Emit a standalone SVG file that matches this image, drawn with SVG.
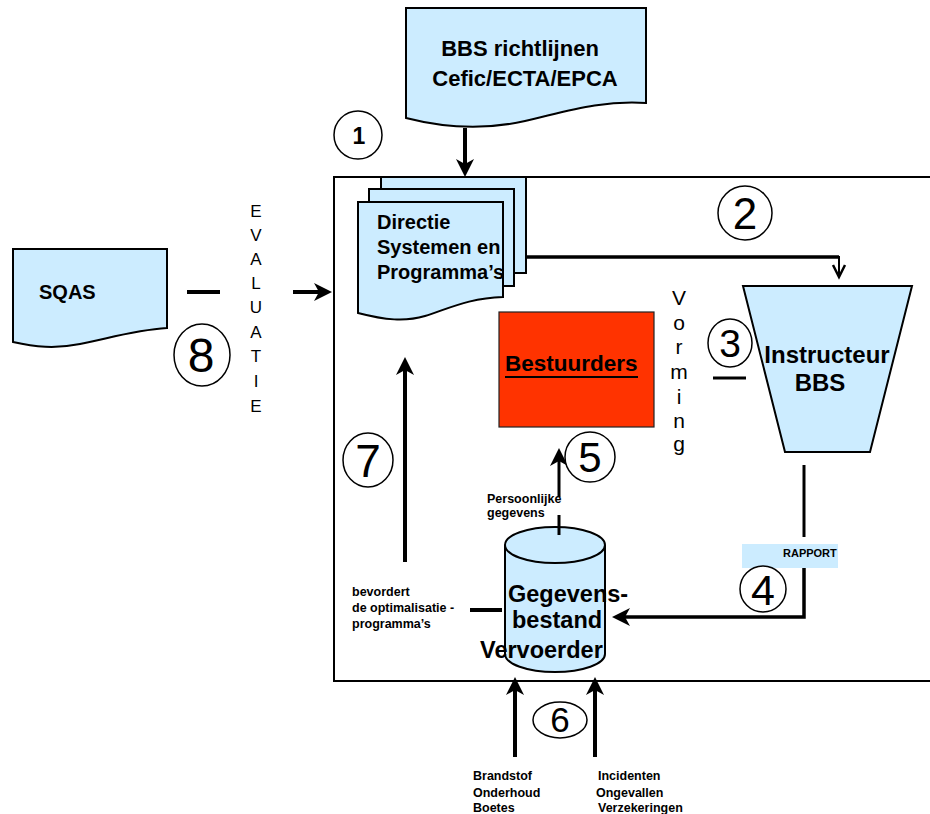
<svg xmlns="http://www.w3.org/2000/svg" width="930" height="814" viewBox="0 0 930 814">
<defs>
<style>
.doc{fill:#CCECFF;stroke:#000;stroke-width:2}
.b{font-family:"Liberation Sans",Arial,sans-serif;font-weight:bold;fill:#000}
.r{font-family:"Liberation Sans",Arial,sans-serif;fill:#000}
.num{font-family:"Liberation Sans",Arial,sans-serif;fill:#000;text-anchor:middle}
.circ{fill:#fff;stroke:#000;stroke-width:1.5}
.ln{fill:none;stroke:#000}
</style>
<marker id="ah" viewBox="0 0 18 18" markerWidth="18" markerHeight="18" markerUnits="userSpaceOnUse" refX="5" refY="9" orient="auto">
<path d="M0,0 L18,9 L0,18 L5,9 Z" fill="#000"/>
</marker>
</defs>
<rect width="930" height="814" fill="#fff"/>

<g id="frame">
<path class="ln" stroke-width="2" d="M930,177 H334 V681 H930"/>
</g>

<g id="bbs-richtlijnen">
<path class="doc" d="M406,8 H646 V103 C600,100 565,112 525,121 C485,130 445,128 406,118 Z"/>
<text class="b" font-size="22" x="520" y="56" text-anchor="middle">BBS richtlijnen</text>
<text class="b" font-size="22" x="525" y="86" text-anchor="middle">Cefic/ECTA/EPCA</text>
</g>

<g id="sqas">
<path class="doc" d="M13,249 H167 V328 C135,330 110,338 80,344 C55,349 35,347 13,342 Z"/>
<text class="b" font-size="20" x="39" y="299">SQAS</text>
</g>

<g id="directie">
<rect class="doc" x="381" y="177" width="145" height="96"/>
<rect class="doc" x="369" y="189" width="145" height="97"/>
<path class="doc" d="M358,202 H503 V297 C470,298 450,308 425,316 C405,322 385,320 358,313 Z"/>
<text class="b" font-size="20" x="377" y="229">Directie</text>
<text class="b" font-size="20" x="377" y="254">Systemen en</text>
<text class="b" font-size="20" x="377" y="279">Programma’s</text>
</g>

<g id="bestuurders">
<rect x="499" y="312" width="155" height="115" fill="#FF3300" stroke="#222" stroke-width="1.2"/>
<text class="b" font-size="22.5" x="505" y="371">Bestuurders</text>
<line x1="505" y1="377" x2="638" y2="377" stroke="#000" stroke-width="2"/>
</g>

<g id="instructeur">
<path class="doc" d="M743,286 H912 L870,452 H785 Z"/>
<text class="b" font-size="24" x="827" y="363" text-anchor="middle">Instructeur</text>
<text class="b" font-size="24" x="820" y="391" text-anchor="middle">BBS</text>
</g>

<g id="gegevensbestand">
<path class="doc" d="M505,545 V654 A50,18 0 0 0 605,654 V545"/>
<ellipse class="doc" cx="555" cy="545" rx="50" ry="18"/>
<text class="b" font-size="23.5" x="508" y="602">Gegevens-</text>
<text class="b" font-size="23.5" x="512" y="628">bestand</text>
<text class="b" font-size="23.5" x="480" y="658">Vervoerder</text>
</g>

<g id="rapport">
<rect x="742" y="544" width="96" height="24" fill="#CCECFF"/>
<text class="b" font-size="11" x="783" y="557">RAPPORT</text>
</g>

<g id="connectors">
<line class="ln" stroke-width="4" x1="465" y1="128" x2="465" y2="164" marker-end="url(#ah)"/>
<path class="ln" stroke-width="3.5" d="M526,257 H839"/>
<path class="ln" stroke-width="2" d="M839,256 V277"/>
<polyline class="ln" stroke-width="2.5" points="833,265 839,277 845,265"/>
<line class="ln" stroke-width="4" x1="187" y1="292" x2="220" y2="292"/>
<line class="ln" stroke-width="4" x1="293" y1="292" x2="319" y2="292" marker-end="url(#ah)"/>
<line class="ln" stroke-width="3" x1="713" y1="378" x2="746" y2="378"/>
<line class="ln" stroke-width="3" x1="804" y1="465" x2="804" y2="537"/>
<path class="ln" stroke-width="3.5" d="M804,568 V617 H625" marker-end="url(#ah)"/>
<line class="ln" stroke-width="4" x1="405" y1="562" x2="405" y2="370" marker-end="url(#ah)"/>
<line class="ln" stroke-width="4" x1="470" y1="610" x2="502" y2="610"/>
<line class="ln" stroke-width="3" x1="559" y1="535" x2="559" y2="515"/>
<line class="ln" stroke-width="3" x1="559" y1="497" x2="559" y2="461" marker-end="url(#ah)"/>
<line class="ln" stroke-width="4" x1="515" y1="757" x2="515" y2="690" marker-end="url(#ah)"/>
<line class="ln" stroke-width="4" x1="595" y1="757" x2="595" y2="690" marker-end="url(#ah)"/>
</g>

<g id="labels">
<g class="r" font-size="17" text-anchor="middle">
<text x="256" y="217">E</text>
<text x="256" y="241">V</text>
<text x="256" y="265">A</text>
<text x="256" y="289">L</text>
<text x="256" y="313">U</text>
<text x="256" y="338">A</text>
<text x="256" y="362">T</text>
<text x="256" y="387">I</text>
<text x="256" y="412">E</text>
</g>
<g class="r" font-size="21" text-anchor="middle">
<text x="679" y="305">V</text>
<text x="679" y="330">o</text>
<text x="679" y="354">r</text>
<text x="679" y="379">m</text>
<text x="679" y="404">i</text>
<text x="679" y="428">n</text>
<text x="679" y="451">g</text>
</g>
<text class="b" font-size="12.5" x="487" y="503">Persoonlijke</text>
<text class="b" font-size="12.5" x="487" y="517">gegevens</text>
<text class="b" font-size="12.5" x="352" y="596">bevordert</text>
<text class="b" font-size="12.5" x="352" y="612">de optimalisatie -</text>
<text class="b" font-size="12.5" x="352" y="628">programma’s</text>
<text class="b" font-size="12.5" x="473" y="780">Brandstof</text>
<text class="b" font-size="12.5" x="473" y="797">Onderhoud</text>
<text class="b" font-size="12.5" x="473" y="812">Boetes</text>
<text class="b" font-size="12.5" x="598" y="780">Incidenten</text>
<text class="b" font-size="12.5" x="596" y="797">Ongevallen</text>
<text class="b" font-size="12.5" x="598" y="812">Verzekeringen</text>
</g>

<g id="step1"><circle class="circ" cx="358" cy="135" r="24"/><text class="num" font-weight="bold" font-size="23" x="359" y="144">1</text></g>
<g id="step2"><circle class="circ" cx="745" cy="213" r="27"/><text class="num" font-size="44" x="745" y="229">2</text></g>
<g id="step3"><ellipse class="circ" cx="730" cy="343" rx="22" ry="24"/><text class="num" font-size="39" x="730" y="357">3</text></g>
<g id="step4"><circle class="circ" cx="763" cy="589" r="23"/><text class="num" font-size="43" x="763" y="605">4</text></g>
<g id="step5"><circle class="circ" cx="590" cy="457" r="25"/><text class="num" font-size="42" x="590" y="472">5</text></g>
<g id="step6"><ellipse class="circ" cx="560" cy="720" rx="27" ry="18"/><text class="num" font-size="35" x="560" y="732">6</text></g>
<g id="step7"><ellipse class="circ" cx="368" cy="460" rx="25" ry="27"/><text class="num" font-size="46" x="368" y="477">7</text></g>
<g id="step8"><ellipse class="circ" cx="202" cy="355" rx="28" ry="31"/><text class="num" font-size="48" x="201" y="372">8</text></g>
</svg>
